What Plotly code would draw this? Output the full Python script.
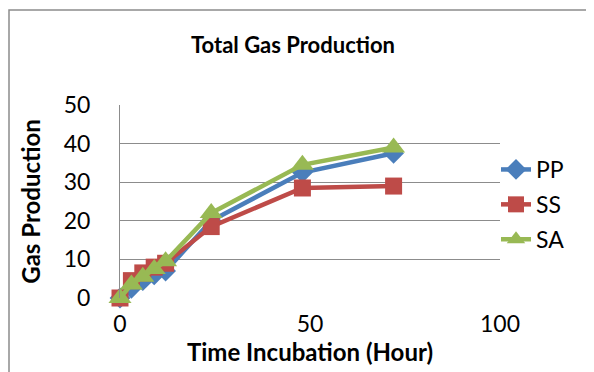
import plotly.graph_objects as go

time_hours = [0, 3, 6, 9, 12, 24, 48, 72]
pp_values = [0, 2.5, 4.5, 6.0, 7.0, 20.0, 32.5, 37.5]
ss_values = [0, 4.5, 6.5, 8.0, 9.0, 18.5, 28.5, 29.0]
sa_values = [0, 3.5, 5.5, 7.5, 9.5, 22.0, 34.5, 39.0]

x_ticks = [0, 50, 100]
y_ticks = [0, 10, 20, 30, 40, 50]

FONT = "Lato, 'Open Sans', sans-serif"

fig = go.Figure()
series = [
    ("PP", pp_values, "#4A7EBB", "diamond", 16),
    ("SS", ss_values, "#BE4B48", "square", 17),
    ("SA", sa_values, "#98B954", "triangle-up", 20),
]
for name, vals, col, sym, sz in series:
    fig.add_trace(go.Scatter(
        x=time_hours, y=vals, name=name, mode="lines+markers",
        line=dict(color=col, width=4.5),
        marker=dict(symbol=sym, size=sz, color=col),
        legendgroup=name, cliponaxis=False,
    ))

OFF = 8  # page body margin
L, R, T, B = 120 - OFF, 94, 105 - OFF, 74
W, H = 594 - OFF, 372 - OFF
pw, ph = W - L - R, H - T - B

fig.update_layout(
    width=W, height=H,
    margin=dict(l=L, r=R, t=T, b=B, pad=0),
    paper_bgcolor="white", plot_bgcolor="white",
    font=dict(family=FONT, size=23, color="black"),
    title=dict(text="<b>Total Gas Production</b>", x=(293 - OFF) / W, xanchor="center",
               y=1 - (45 - OFF) / H, yanchor="middle", font=dict(size=22)),
    showlegend=True,
    legend=dict(x=(496 - 120) / pw, xanchor="left", y=(298 - 148) / ph, yanchor="top",
                font=dict(size=23), tracegroupgap=2, itemwidth=30,
                bgcolor="rgba(0,0,0,0)"),
    xaxis=dict(range=[0, 100], tickvals=x_ticks, showgrid=False, zeroline=False,
               showline=False, ticks="", ticklabelstandoff=10,
               title=dict(text="<b>Time Incubation (Hour)</b>", standoff=4, font=dict(size=24))),
    yaxis=dict(range=[0, 50], tickvals=y_ticks, showgrid=True, gridcolor="#8C8C8C",
               gridwidth=1, zeroline=False, showline=True, linecolor="#8C8C8C",
               linewidth=1, ticks="", ticklabelstandoff=24,
               title=dict(text="<b>Gas Production</b>", standoff=16, font=dict(size=24))),
)

fig.add_shape(type="rect", xref="paper", yref="paper",
              x0=(1 - L) / pw, x1=(585 - L) / pw,
              y0=(ph + T - 370) / ph, y1=(ph + T - 2) / ph,
              line=dict(color="#8C8C8C", width=1.5), fillcolor="rgba(0,0,0,0)", layer="below")

fig.write_html("out.html")
